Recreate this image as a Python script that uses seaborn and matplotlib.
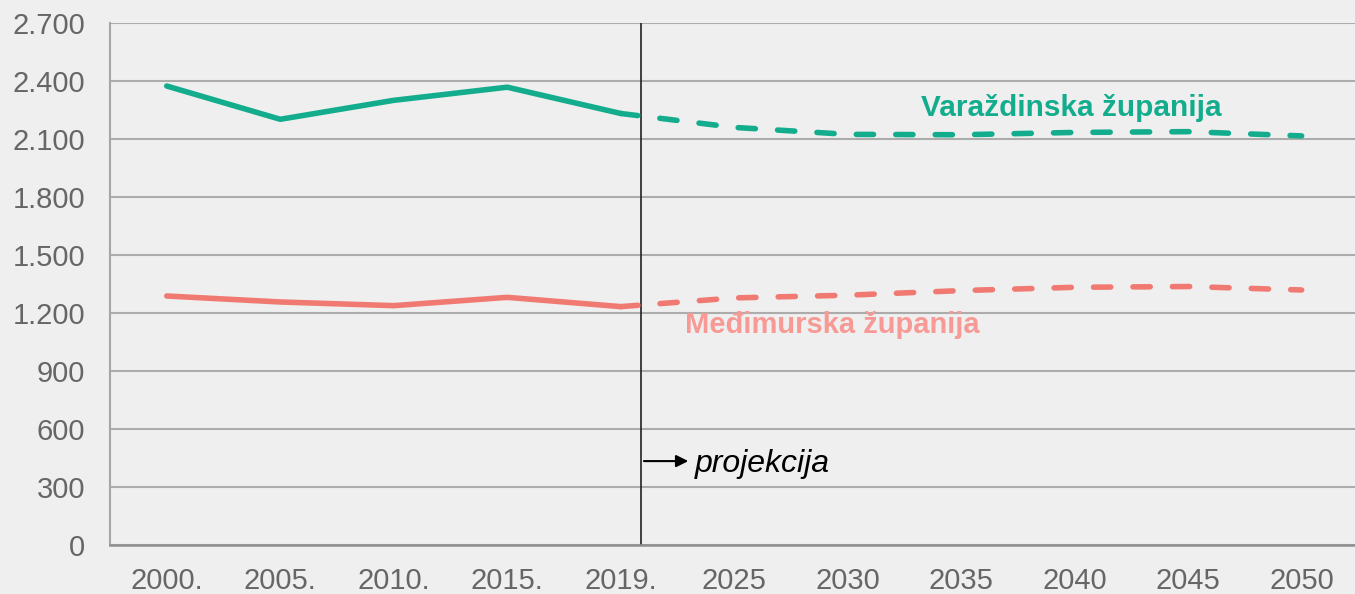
import pandas as pd
import matplotlib.pyplot as plt
import seaborn as sns

years = ["2000.", "2005.", "2010.", "2015.", "2019.", "2025", "2030", "2035", "2040", "2045", "2050"]
varazdinska = [2374, 2202, 2300, 2368, 2232, 2160, 2124, 2122, 2134, 2138, 2116]
medimurska = [1288, 1257, 1238, 1281, 1233, 1278, 1292, 1316, 1333, 1337, 1319]
yticks = [0, 300, 600, 900, 1200, 1500, 1800, 2100, 2400, 2700]
last_actual = 4  # index of 2019.

green = "#13ad8e"
salmon = "#f07a71"
bg = "#efefef"

df = pd.DataFrame({"pos": range(len(years)), "year": years,
                   "Varaždinska županija": varazdinska,
                   "Međimurska županija": medimurska})
hist = df.iloc[:last_actual + 1]
proj = df.iloc[last_actual:]

sns.set_style("white")
plt.rcParams["font.family"] = ["Liberation Sans", "DejaVu Sans"]

fig = plt.figure(figsize=(13.55, 5.94), dpi=100, facecolor=bg)
ax = fig.add_axes([110 / 1355, 49 / 594, 1 - 110 / 1355, 522 / 594])
ax.set_facecolor(bg)

for col, c in [("Varaždinska županija", green), ("Međimurska županija", salmon)]:
    sns.lineplot(data=hist, x="pos", y=col, color=c, lw=4.0, ax=ax,
                 solid_capstyle="round", solid_joinstyle="round")
    sns.lineplot(data=proj, x="pos", y=col, color=c, lw=4.0, ax=ax,
                 linestyle=(0, (3.1, 4.0)), dash_capstyle="round")

ax.set_xlim(-0.5, 10.47)
ax.set_ylim(0, 2700)
ax.set_xticks(range(len(years)))
ax.set_xticklabels(years)
ax.set_yticks(yticks)
ax.set_yticklabels([f"{v:,}".replace(",", ".") for v in yticks])
ax.tick_params(axis="both", length=0, labelsize=21, labelcolor="#666666")
ax.tick_params(axis="y", pad=18)
ax.tick_params(axis="x", pad=16)
ax.set_xlabel("")
ax.set_ylabel("")
ax.grid(axis="y", color="#acacac", lw=1.5)
ax.set_axisbelow(True)
for s in ["top", "right"]:
    ax.spines[s].set_visible(False)
ax.spines["left"].set_color("#a6a6a6")
ax.spines["left"].set_linewidth(1.5)
ax.spines["bottom"].set_color("#8f8f8f")
ax.spines["bottom"].set_linewidth(1.8)

# projection marker
ax.axvline(4.18, color="#222222", lw=1.2, zorder=1)
ax.annotate("", xy=(4.62, 434), xytext=(4.18, 434),
            arrowprops=dict(arrowstyle="-|>", color="black", lw=1.5, mutation_scale=18))
ax.text(4.65, 420, "projekcija", fontsize=23, style="italic", color="black", va="center")

ax.text(6.65, 2262, "Varaždinska županija", fontsize=21.4, fontweight="bold", color=green, va="center")
ax.text(4.57, 1138, "Međimurska županija", fontsize=21, fontweight="bold", color="#f79a95", va="center")

plt.savefig("out.png", dpi=100, facecolor=bg)
plt.close()
